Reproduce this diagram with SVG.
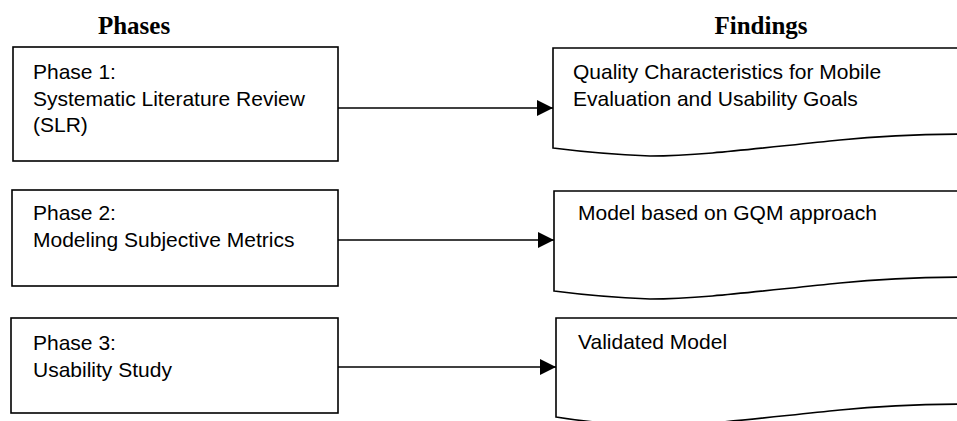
<svg xmlns="http://www.w3.org/2000/svg" width="957" height="421" viewBox="0 0 957 421">
  <defs>
    <style>
      .box { fill: #fff; stroke: #000; stroke-width: 1.6; }
      .doc { fill: #fff; stroke: #000; stroke-width: 1.6; }
      .t { font-family: "Liberation Sans", Arial, sans-serif; font-size: 21px; fill: #000; }
      .h { font-family: "Liberation Serif", "Times New Roman", serif; font-size: 25px; font-weight: bold; fill: #000; text-anchor: middle; }
      .conn { stroke: #000; stroke-width: 1.6; fill: none; }
    </style>
    <marker id="arr" markerWidth="16" markerHeight="16" viewBox="0 0 16 16" refX="16" refY="8" orient="auto" markerUnits="userSpaceOnUse">
      <path d="M0,0 L16,8 L0,16 Z" fill="#000"/>
    </marker>
  </defs>
  <rect width="957" height="421" fill="#fff"/>

  <g id="headers">
    <text class="h" x="134" y="34">Phases</text>
    <text class="h" x="761" y="34">Findings</text>
  </g>

  <g id="phase1">
    <rect class="box" x="13" y="47" width="325" height="114"/>
    <text class="t" x="33" y="79">Phase 1:</text>
    <text class="t" x="33" y="106">Systematic Literature Review</text>
    <text class="t" x="33" y="132">(SLR)</text>
  </g>
  <g id="phase2">
    <rect class="box" x="12" y="190" width="326" height="96"/>
    <text class="t" x="33" y="220">Phase 2:</text>
    <text class="t" x="33" y="247">Modeling Subjective Metrics</text>
  </g>
  <g id="phase3">
    <rect class="box" x="11" y="318" width="327" height="95"/>
    <text class="t" x="33" y="350">Phase 3:</text>
    <text class="t" x="33" y="377">Usability Study</text>
  </g>

  <g id="finding1">
    <path class="doc" d="M553,48 H975 V134 C930,134 880,136 840,140 C760,148 700,156 650,156 Q600,154 553,148 Z"/>
    <text class="t" x="573" y="79">Quality Characteristics for Mobile</text>
    <text class="t" x="573" y="106">Evaluation and Usability Goals</text>
  </g>
  <g id="finding2">
    <path class="doc" d="M554,191 H975 V277 C930,277 880,279 840,283 C760,291 700,299 650,299 Q600,297 554,291 Z"/>
    <text class="t" x="578" y="220">Model based on GQM approach</text>
  </g>
  <g id="finding3">
    <path class="doc" d="M556,318 H975 V404 C930,404 880,406 840,410 C760,418 700,426 650,426 Q600,424 556,417 Z"/>
    <text class="t" x="578" y="349">Validated Model</text>
  </g>

  <g id="connectors">
    <line class="conn" x1="338" y1="108" x2="553" y2="108" marker-end="url(#arr)"/>
    <line class="conn" x1="338" y1="240" x2="554" y2="240" marker-end="url(#arr)"/>
    <line class="conn" x1="338" y1="367" x2="556" y2="367" marker-end="url(#arr)"/>
  </g>
</svg>
